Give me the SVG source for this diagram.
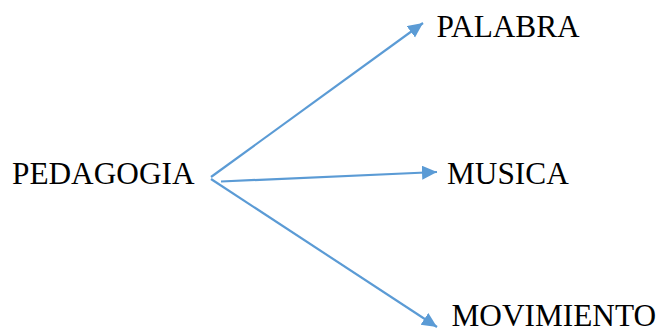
<svg xmlns="http://www.w3.org/2000/svg" width="664" height="333" viewBox="0 0 664 333">
<style>
.lbl{font-family:"Liberation Serif","Times New Roman",serif;font-size:31.3px;fill:#000}
.conn{stroke:#5B9BD5;stroke-width:2.2;fill:none}
</style>
<defs>
<marker id="ah" markerUnits="userSpaceOnUse" markerWidth="16" markerHeight="15" refX="15" refY="7" orient="auto">
<path d="M0,0 L15,7 L0,14 z" fill="#5B9BD5"/>
</marker>
</defs>
<rect width="664" height="333" fill="#fff"/>
<g id="connectors">
<line class="conn" x1="211" y1="177" x2="423" y2="23" marker-end="url(#ah)"/>
<line class="conn" x1="221" y1="181.5" x2="437" y2="172" marker-end="url(#ah)"/>
<line class="conn" x1="211" y1="179" x2="437" y2="327" marker-end="url(#ah)"/>
</g>
<g id="pedagogia"><text class="lbl" x="12" y="184.3">PEDAGOGIA</text></g>
<g id="palabra"><text class="lbl" x="436.5" y="37.3">PALABRA</text></g>
<g id="musica"><text class="lbl" x="447" y="184.3">MUSICA</text></g>
<g id="movimiento"><text class="lbl" x="451.5" y="326">MOVIMIENTO</text></g>
</svg>
